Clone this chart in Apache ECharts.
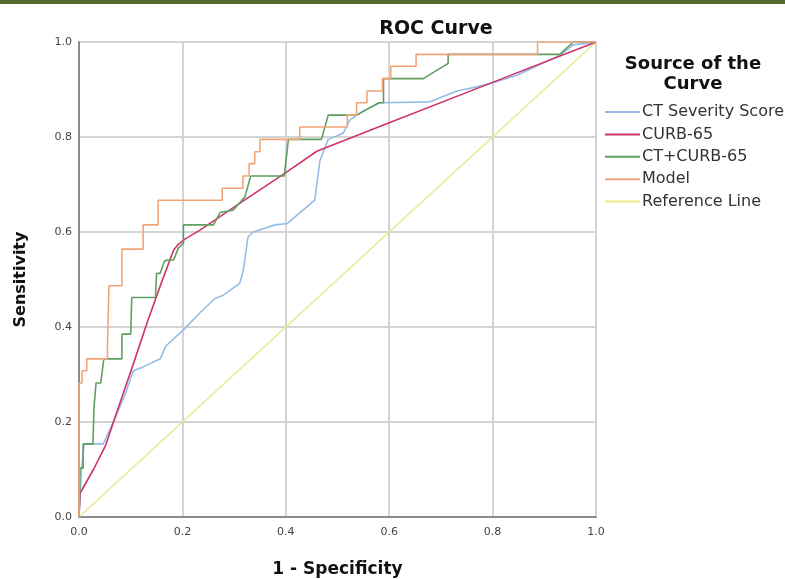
<!DOCTYPE html>
<html>
<head>
<meta charset="utf-8">
<script src="https://cdn.jsdelivr.net/npm/echarts@6/dist/echarts.min.js"></script>
<style>
html,body{margin:0;padding:0;background:#fff;}
#topbar{position:absolute;left:0;top:0;width:785px;height:4px;background:#58692e;}
#chart{width:785px;height:579px;}
</style>
</head>
<body>
<div id="chart"></div>
<div id="topbar"></div>
<script>
var seriesNames = ['CT Severity Score', 'CURB-65', 'CT+CURB-65', 'Model', 'Reference Line'];
var axisTicks = [0, 0.2, 0.4, 0.6, 0.8, 1.0];

// [1 - specificity, sensitivity]
var ctSeverity = [[0,0],[0.005,0.103],[0.01,0.154],[0.047,0.154],[0.068,0.204],[0.09,0.26],[0.105,0.308],[0.124,0.316],[0.157,0.333],[0.168,0.36],[0.202,0.394],[0.234,0.43],[0.263,0.46],[0.279,0.467],[0.311,0.492],[0.318,0.52],[0.327,0.59],[0.337,0.6],[0.379,0.615],[0.403,0.618],[0.456,0.667],[0.466,0.75],[0.482,0.795],[0.511,0.808],[0.524,0.836],[0.55,0.855],[0.582,0.872],[0.679,0.874],[0.731,0.897],[0.763,0.904],[0.801,0.914],[0.847,0.93],[0.93,0.972],[0.956,0.994],[1,1]];
var curb65 = [[0,0],[0.002,0.05],[0.028,0.1],[0.052,0.152],[0.068,0.204],[0.106,0.325],[0.132,0.41],[0.16,0.495],[0.183,0.562],[0.192,0.574],[0.205,0.585],[0.234,0.604],[0.32,0.667],[0.4,0.725],[0.46,0.77],[0.6,0.83],[0.8,0.915],[1,1]];
var ctCurb = [[0,0],[0.002,0.103],[0.008,0.103],[0.008,0.154],[0.027,0.154],[0.029,0.231],[0.033,0.282],[0.042,0.282],[0.048,0.333],[0.083,0.333],[0.083,0.385],[0.1,0.385],[0.102,0.462],[0.148,0.462],[0.15,0.513],[0.157,0.513],[0.165,0.538],[0.17,0.541],[0.183,0.541],[0.192,0.566],[0.202,0.576],[0.202,0.615],[0.26,0.615],[0.273,0.641],[0.298,0.646],[0.321,0.674],[0.332,0.718],[0.397,0.718],[0.405,0.795],[0.469,0.795],[0.482,0.846],[0.537,0.846],[0.58,0.872],[0.589,0.872],[0.589,0.923],[0.666,0.923],[0.714,0.955],[0.714,0.974],[0.93,0.974],[0.956,1],[1,1]];
var model = [[0,0],[0,0.282],[0.006,0.308],[0.015,0.333],[0.055,0.359],[0.058,0.487],[0.083,0.564],[0.124,0.615],[0.153,0.667],[0.277,0.692],[0.317,0.718],[0.329,0.744],[0.34,0.769],[0.35,0.795],[0.427,0.821],[0.519,0.846],[0.537,0.872],[0.557,0.897],[0.587,0.923],[0.603,0.949],[0.652,0.974],[0.887,1.0],[1.0,1.0]];
var reference = [[0,0],[1,1]];

var colors = ['#93bde6', '#d0336a', '#5f9f62', '#f2a578', '#ece98c'];
var FONT = 'DejaVu Sans';

var chart = echarts.init(document.getElementById('chart'), null, {renderer:'canvas'});
function lineSeries(name, data, color, step) {
  return {
    name: name, type: 'line', data: data, step: step || false,
    showSymbol: false, symbol: 'none', silent: true,
    lineStyle: {color: color, width: 1.6},
    itemStyle: {color: color}
  };
}
chart.setOption({
  animation: false,
  backgroundColor: '#fff',
  textStyle: {fontFamily: FONT},
  title: [
    {text: 'ROC Curve', left: 431, top: 15, textAlign: 'center',
     textStyle: {fontSize: 19, fontWeight: 'bold', color: '#111', fontFamily: FONT}},
    {text: 'Source of the\nCurve', left: 688, top: 49, textAlign: 'center',
     textStyle: {fontSize: 18, fontWeight: 'bold', color: '#111', lineHeight: 20, fontFamily: FONT}}
  ],
  legend: {
    orient: 'vertical', left: 600, top: 99,
    itemWidth: 35, itemHeight: 2, itemGap: 6.4,
    icon: 'rect',
    data: seriesNames,
    textStyle: {fontSize: 16, lineHeight: 16, color: '#333', padding: [0,0,0,-3], fontFamily: FONT}
  },
  grid: {left: 79, right: 189, top: 42, bottom: 62, containLabel: false, outerBoundsMode: 'none'},
  xAxis: {
    type: 'value', min: 0, max: 1, interval: 0.2,
    name: '1 - Specificity', nameLocation: 'middle', nameGap: 44,
    nameTextStyle: {fontSize: 17, fontWeight: 'bold', color: '#111', fontFamily: FONT},
    axisLine: {show: true, onZero: false, lineStyle: {color: '#8a8a8a', width: 2}},
    axisTick: {show: false},
    axisLabel: {fontSize: 11, color: '#444', margin: 10, fontFamily: FONT,
      formatter: function (v) { return v.toFixed(1); }},
    splitLine: {show: true, lineStyle: {color: '#d4d4d4', width: 2}}
  },
  yAxis: {
    type: 'value', min: 0, max: 1, interval: 0.2,
    name: 'Sensitivity', nameLocation: 'middle', nameGap: 50,
    nameTextStyle: {fontSize: 16, fontWeight: 'bold', color: '#111', fontFamily: FONT},
    axisLine: {show: true, onZero: false, lineStyle: {color: '#8a8a8a', width: 2}},
    axisTick: {show: false},
    axisLabel: {fontSize: 11, color: '#444', margin: 7, fontFamily: FONT,
      formatter: function (v) { return v.toFixed(1); }},
    splitLine: {show: true, lineStyle: {color: '#d4d4d4', width: 2}}
  },
  series: [
    lineSeries(seriesNames[4], reference, colors[4]),
    lineSeries(seriesNames[0], ctSeverity, colors[0]),
    lineSeries(seriesNames[1], curb65, colors[1]),
    lineSeries(seriesNames[2], ctCurb, colors[2]),
    lineSeries(seriesNames[3], model, colors[3], 'end')
  ]
});
</script>
</body>
</html>
